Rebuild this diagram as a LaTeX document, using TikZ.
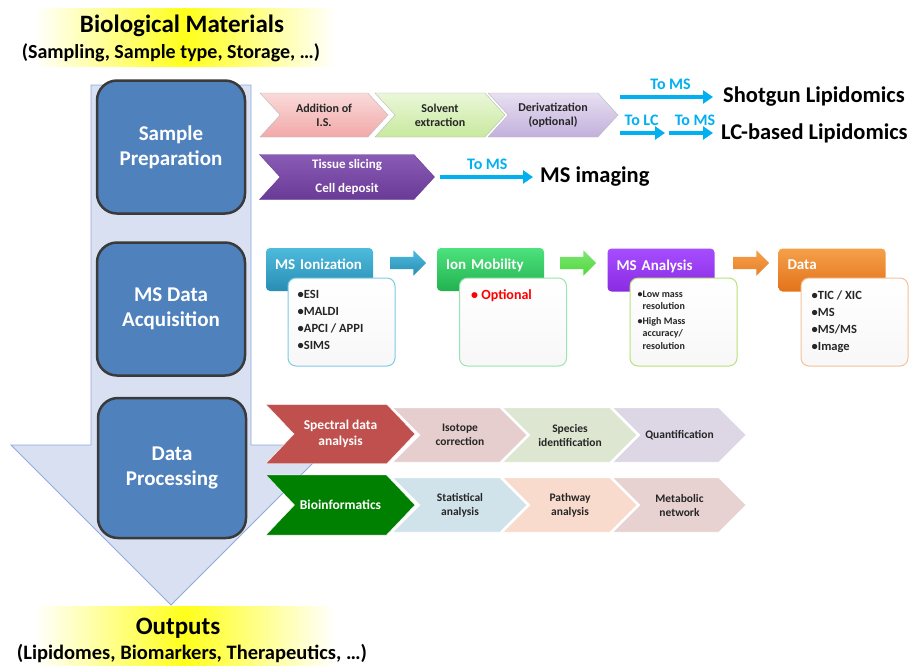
\documentclass[tikz,border=0pt]{standalone}
\usepackage{fontspec}
\setmainfont{Carlito}
\usetikzlibrary{arrows.meta,positioning,shapes.symbols,shapes.arrows}
\definecolor{glow}{HTML}{FFFF1A}
\definecolor{shaftfill}{HTML}{D9E0F2}
\definecolor{shaftedge}{HTML}{8FAADC}
\definecolor{stageblue}{HTML}{4F81BD}
\definecolor{stageedge}{HTML}{3A3A3A}
\definecolor{skyblue}{HTML}{00B0F0}
\definecolor{textdark}{HTML}{262626}
\definecolor{pinktop}{HTML}{FADADA}
\definecolor{pinkbot}{HTML}{F2A8A8}
\definecolor{limetop}{HTML}{EAF7D9}
\definecolor{limebot}{HTML}{C8E99E}
\definecolor{liltop}{HTML}{E8E0F2}
\definecolor{lilbot}{HTML}{C2B0DC}
\definecolor{grapetop}{HTML}{8A5BB5}
\definecolor{grapebot}{HTML}{6A3B96}
\definecolor{tealtop}{HTML}{4DBBDD}
\definecolor{tealbot}{HTML}{2A8DB3}
\definecolor{tealedge}{HTML}{7FCBE3}
\definecolor{mintop}{HTML}{4DE27D}
\definecolor{minbot}{HTML}{22B24F}
\definecolor{minedge}{HTML}{9BE3B0}
\definecolor{violtop}{HTML}{A64DFF}
\definecolor{violbot}{HTML}{8A2BE2}
\definecolor{violedge}{HTML}{B8E27A}
\definecolor{ambtop}{HTML}{F5A04A}
\definecolor{ambbot}{HTML}{E2731A}
\definecolor{ambedge}{HTML}{F6C19A}
\definecolor{tealarr}{HTML}{35A3C8}
\definecolor{minarr}{HTML}{4CD93A}
\definecolor{ambarr}{HTML}{E8802A}
\definecolor{brick}{HTML}{C0504D}
\definecolor{rosepale}{HTML}{E6CDCE}
\definecolor{sagepale}{HTML}{DCE6D0}
\definecolor{lavpale}{HTML}{DCD6E5}
\definecolor{forest}{HTML}{008000}
\definecolor{icepale}{HTML}{D0E3EA}
\definecolor{peachpale}{HTML}{F9DBCD}
\definecolor{blushpale}{HTML}{E8D1D1}

\begin{document}
\begin{tikzpicture}[x=1pt,y=-1pt,
  heading/.style={inner sep=0pt,text=black,font=\fontsize{25}{30}\selectfont\bfseries},
  subheading/.style={inner sep=0pt,text=black,font=\fontsize{20}{22}\selectfont\bfseries},
  stage/.style={draw=stageedge,line width=2.5pt,rounded corners=20pt,fill=stageblue,
                minimum width=148pt,minimum height=133pt,align=center,text=white,
                font=\fontsize{21}{25}\selectfont\bfseries},
  prepchev/.style={shape=signal,signal from=west,signal to=east,signal pointer angle=95,
                   draw=gray!55,minimum height=44pt,align=center,inner sep=0pt,text=textdark,
                   font=\fontsize{12}{14}\selectfont\bfseries},
  goal/.style={anchor=west,inner sep=0pt,text=black,font=\fontsize{22.5}{26}\selectfont\bfseries},
  toms/.style={line width=4.5pt,draw=skyblue,-{Triangle[length=10pt,width=13pt]}},
  tolabel/.style={above=2pt,text=skyblue,font=\fontsize{16}{18}\selectfont\bfseries},
  hdr/.style={rounded corners=4pt,minimum width=107pt,minimum height=43pt,text width=89pt,
              align=left,inner xsep=9pt,text=white,text depth=10pt,
              font=\fontsize{15}{17}\selectfont\bfseries},
  detail/.style={rounded corners=8pt,line width=1pt,top color=white,bottom color=gray!6,
                 minimum width=107pt,minimum height=88pt},
  listing/.style={inner sep=0pt,align=left,text=textdark,font=\fontsize{12.5}{17}\selectfont\bfseries},
  blockarr/.style={shape=single arrow,single arrow head extend=6.5pt,minimum height=36pt,
                   inner xsep=0pt,inner ysep=6pt},
  procchev/.style={shape=signal,signal from=west,signal to=east,signal pointer angle=90,
                   draw=white,minimum height=54pt,align=center,inner sep=0pt,text=textdark,
                   font=\fontsize{11.5}{14}\selectfont\bfseries},
  leadchev/.style={procchev,minimum height=59pt,signal pointer angle=93,text=white,
                   font=\fontsize{13.5}{16}\selectfont\bfseries}
]
\useasboundingbox (0,0) rectangle (915,665);
\fill[white] (0,0) rectangle (915,665);

% glowing titles
\fill[left color=white,right color=white,middle color=glow] (35,8) rectangle (335,66);
\fill[left color=white,right color=white,middle color=glow] (35,606) rectangle (335,665);
\node[heading] (bio) at (182,26) {Biological Materials};
\node[subheading] (biosub) at (171,53) {(Sampling, Sample type, Storage, \dots)};
\node[heading] (outputs) at (178,628) {Outputs};
\node[subheading,font=\fontsize{20.5}{22}\selectfont\bfseries] (outsub) at (192,653) {(Lipidomes, Biomarkers, Therapeutics, \dots)};

% big downward arrow
\draw[fill=shaftfill,draw=shaftedge,line width=0.8pt]
  (91,85) -- (251,85) -- (251,445) -- (331,445) -- (171,605) -- (11,445) -- (91,445) -- cycle;

% stages
\node[stage] (prep) at (171,147) {Sample\\Preparation};
\node[stage] (acq) at (171,309) {MS Data\\Acquisition};
\node[stage,minimum height=140pt] (proc) at (172,468) {Data\\Processing};

% sample preparation
\node[prepchev,top color=pinktop,bottom color=pinkbot,minimum width=128pt] (addis) at (324,115) {Addition of\\I.S.};
\node[prepchev,top color=limetop,bottom color=limebot,minimum width=130pt] (solvent) at (440,115) {Solvent\\extraction};
\node[prepchev,top color=liltop,bottom color=lilbot,minimum width=130pt] (deriv) at (553,115) {Derivatization\\(optional)};
\node[prepchev,top color=grapetop,bottom color=grapebot,draw=grapebot,minimum width=175pt,minimum height=45pt,
      text=white,font=\fontsize{13}{24}\selectfont\bfseries] (tissue) at (347,177) {Tissue slicing\\Cell deposit};

\node[goal] (shotgun) at (723,97) {Shotgun Lipidomics};
\node[goal] (lcbased) at (721,133) {LC-based Lipidomics};
\node[goal] (imaging) at (540,177) {MS imaging};
\coordinate (lcstop) at (665,133);
\coordinate (lcgo) at (669,133);

\draw[toms,shorten <=2pt,shorten >=10pt] (deriv.east |- shotgun.west) -- node[tolabel] {To MS} (shotgun.west);
\draw[toms,shorten <=2pt] (deriv.east |- lcbased.west) -- node[tolabel] {To LC} (lcstop);
\draw[toms,shorten >=8pt] (lcgo) -- node[tolabel] {To MS} (lcbased.west);
\draw[toms,shorten <=5pt,shorten >=7pt] (tissue.east) -- node[tolabel] {To MS} (imaging.west);

% MS data acquisition
\node[hdr,top color=tealtop,bottom color=tealbot] (ionhdr) at (319.5,269.5) {MS Ionization};
\node[hdr,top color=mintop,bottom color=minbot] (mobhdr) at (490.5,269.5) {Ion Mobility};
\node[hdr,top color=violtop,bottom color=violbot] (anahdr) at (661,270) {MS Analysis};
\node[hdr,top color=ambtop,bottom color=ambbot] (datahdr) at (832,270) {Data};

\node[detail,draw=tealedge] (ionbox) at (341.5,322) {};
\node[detail,draw=minedge] (mobbox) at (513,322) {};
\node[detail,draw=violedge] (anabox) at (683.5,322) {};
\node[detail,draw=ambedge] (databox) at (854.5,322) {};

\node[listing,below right=13pt and 10pt of ionbox.north west] (ionlist)
  {\textbullet ESI\\\textbullet MALDI\\\textbullet APCI / APPI\\\textbullet SIMS};
\node[listing,below right=12pt and 12pt of mobbox.north west,text=red,
      font=\fontsize{14}{17}\selectfont\bfseries] (moblist) {\textbullet\ Optional};
\node[listing,below right=13pt and 8pt of anabox.north west,font=\fontsize{10}{12.5}\selectfont\bfseries] (analist)
  {\textbullet Low mass\\\hphantom{\textbullet}resolution\\[2pt]\textbullet High Mass\\\hphantom{\textbullet}accuracy/\\\hphantom{\textbullet}resolution};
\node[listing,below right=13pt and 11pt of databox.north west] (datalist)
  {\textbullet TIC / XIC\\\textbullet MS\\\textbullet MS/MS\\\textbullet Image};

\node[blockarr,top color=tealtop,bottom color=tealbot] (ionstep) at (405,263) {};
\node[blockarr,top color=minarr!70!white,bottom color=minarr] (mobstep) at (575,263) {};
\node[blockarr,top color=ambtop,bottom color=ambarr] (anastep) at (748,263) {};

% data processing
\node[leadchev,fill=brick,minimum width=149pt] (spectral) at (340.5,434) {Spectral data\\analysis};
\node[procchev,fill=rosepale,minimum width=134pt] (isotope) at (460,435) {Isotope\\correction};
\node[procchev,fill=sagepale,minimum width=134pt] (species) at (570,435) {Species\\identification};
\node[procchev,fill=lavpale,minimum width=133pt] (quant) at (679.5,435) {Quantification};

\node[leadchev,fill=forest,minimum width=149pt,minimum height=60pt] (bioinfo) at (340.5,505) {Bioinformatics};
\node[procchev,fill=icepale,minimum width=134pt] (stats) at (460,505) {Statistical\\analysis};
\node[procchev,fill=peachpale,minimum width=134pt] (pathway) at (570,505) {Pathway\\analysis};
\node[procchev,fill=blushpale,minimum width=133pt] (metab) at (679.5,505) {Metabolic\\network};
\end{tikzpicture}
\end{document}
